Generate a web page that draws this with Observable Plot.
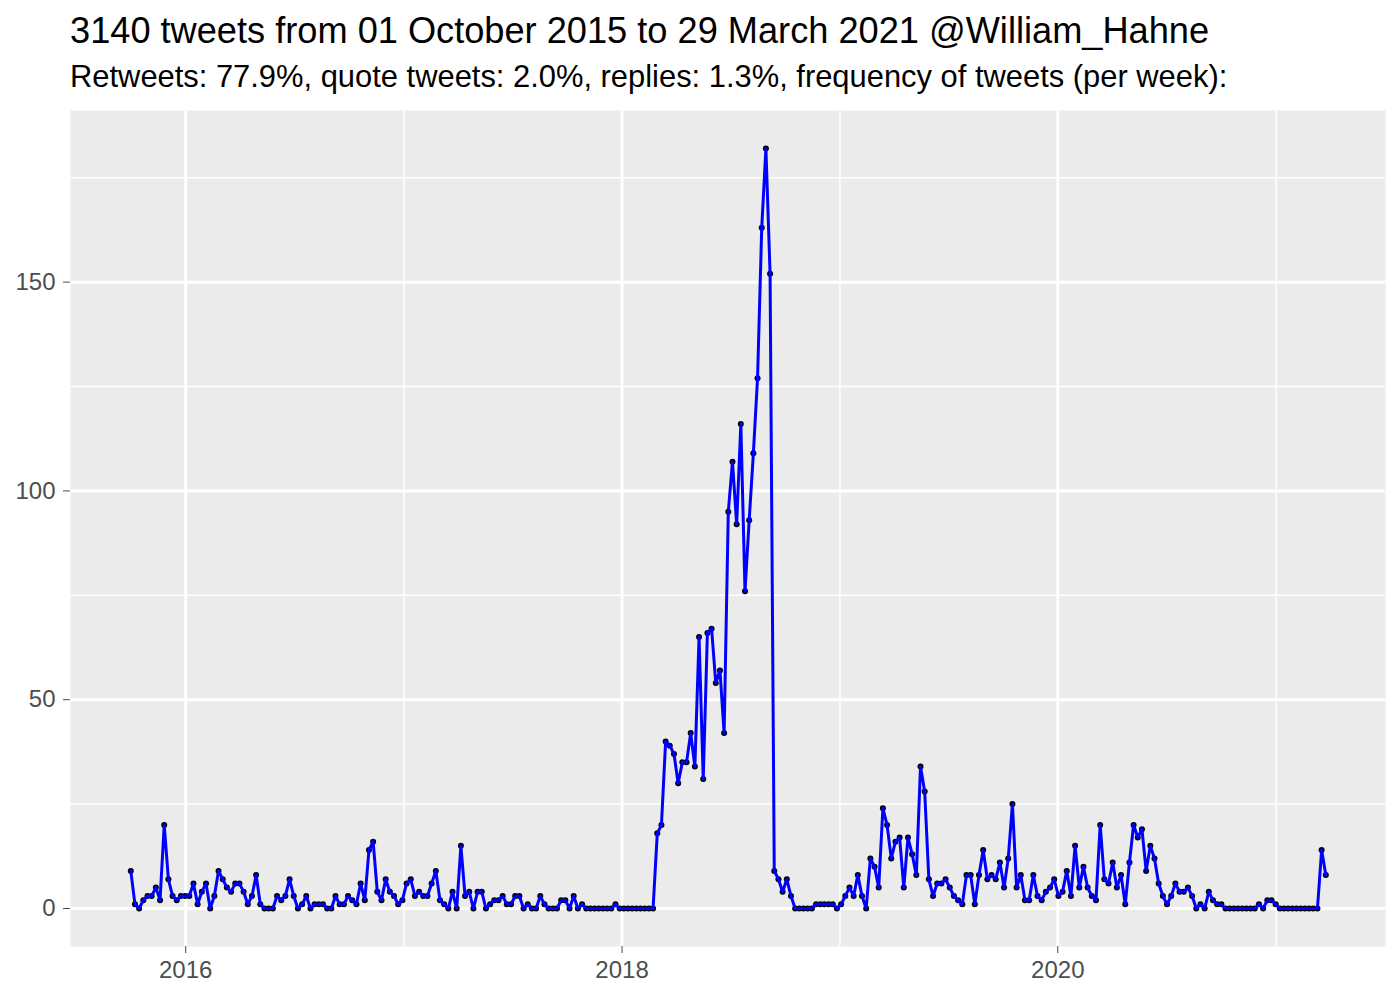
<!DOCTYPE html>
<html>
<head>
<meta charset="utf-8">
<script src="https://cdn.jsdelivr.net/npm/d3@7"></script>
<script src="https://cdn.jsdelivr.net/npm/@observablehq/plot@0.6"></script>
<style>
  body { margin: 0; background: #ffffff; font-family: "Liberation Sans", Arial, sans-serif; }
  #wrap { position: relative; width: 1400px; height: 1000px; background: #ffffff; }
  #title { position: absolute; left: 70px; top: 13px; font-size: 36.2px; line-height: 1; white-space: nowrap; color: #000; }
  #subtitle { position: absolute; left: 70px; top: 62px; font-size: 30.9px; line-height: 1; white-space: nowrap; color: #000; }
  #chart { position: absolute; left: 0; top: 100px; }
</style>
</head>
<body>
<div id="wrap">
  <div id="title">3140 tweets from 01 October 2015 to 29 March 2021 @William_Hahne</div>
  <div id="subtitle">Retweets: 77.9%, quote tweets: 2.0%, replies: 1.3%, frequency of tweets (per week):</div>
  <div id="chart"></div>
</div>
<script>
// Weekly tweet counts, first week starting 2015-10-01
const startDate = "2015-10-01";
const counts = [
  9,1,0,2,3,3,5,2,20,7,3,2,3,3,3,6,1,4,6,0,3,9,7,5,4,6,6,4,1,3,8,1,0,0,
  0,3,2,3,7,3,0,1,3,0,1,1,1,0,0,3,1,1,3,2,1,6,2,14,16,4,2,7,4,3,1,2,6,7,3,
  4,3,3,6,9,2,1,0,4,0,15,3,4,0,4,4,0,1,2,2,3,1,1,3,3,0,1,0,0,3,1,0,0,0,2,
  2,0,3,0,1,0,0,0,0,0,0,0,1,0,0,0,0,0,0,0,0,0,
  18,20,40,39,37,30,35,35,42,34,65,31,66,67,54,57,42,95,107,92,116,76,93,109,127,163,182,152,9,7,4,7,
  3,0,0,0,0,0,1,1,1,1,1,0,1,3,5,3,8,3,0,12,10,5,24,20,12,16,17,5,17,13,8,34,
  28,7,3,6,6,7,5,3,2,1,8,8,1,8,14,7,8,7,11,5,12,25,5,8,2,2,8,3,2,4,5,7,3,4,9,
  3,15,5,10,5,3,2,20,7,6,11,5,8,1,11,20,17,19,9,15,12,6,3,1,3,6,4,4,5,3,0,1,0,4,
  2,1,1,0,0,0,0,0,0,0,0,1,0,2,2,1,0,0,0,0,0,0,0,0,0,0,14,8
];
const yTicks = [0, 50, 100, 150];
const yMinorTicks = [25, 75, 125, 175];
const xTickYears = [2016, 2018, 2020];
const xMinorYears = [2017, 2019, 2021];

const t0 = new Date(startDate);
const data = counts.map((n, i) => ({ time: d3.utcDay.offset(t0, 7 * i), n }));
const tEnd = data[data.length - 1].time;
const spanDays = (tEnd - t0) / 864e5;
const pad = spanDays * 0.05;
const yMax = d3.max(counts);
const yPad = yMax * 0.05;

const majorDates = xTickYears.map(y => new Date(Date.UTC(y, 0, 1)));
const minorDates = xMinorYears.map(y => new Date(Date.UTC(y, 0, 1)));

const chart = Plot.plot({
  width: 1400,
  height: 900,
  marginTop: 10,
  marginBottom: 54,
  marginLeft: 70,
  marginRight: 15,
  style: { fontFamily: "Liberation Sans, Arial, sans-serif", background: "#ffffff", overflow: "visible" },
  x: { type: "utc", domain: [d3.utcDay.offset(t0, -pad), d3.utcDay.offset(tEnd, pad)] },
  y: { domain: [-yPad, yMax + yPad] },
  marks: [
    Plot.frame({ fill: "#EBEBEB", stroke: "none" }),
    Plot.ruleY(yMinorTicks, { stroke: "#ffffff", strokeWidth: 1.5 }),
    Plot.ruleX(minorDates, { stroke: "#ffffff", strokeWidth: 1.5 }),
    Plot.ruleY(yTicks, { stroke: "#ffffff", strokeWidth: 3 }),
    Plot.ruleX(majorDates, { stroke: "#ffffff", strokeWidth: 3 }),
    Plot.dot(data, { x: "time", y: "n", r: 3, fill: "#000000", stroke: "none" }),
    Plot.line(data, { x: "time", y: "n", stroke: "#0000FF", strokeWidth: 3 }),
    Plot.axisY({ ticks: yTicks, tickSize: 7, tickPadding: 8, fontSize: 24, color: "#4D4D4D", label: null }),
    Plot.axisX({ ticks: majorDates, tickFormat: d3.utcFormat("%Y"), tickSize: 7, tickPadding: 7, fontSize: 24, color: "#4D4D4D", label: null })
  ]
});
document.getElementById("chart").appendChild(chart);
</script>
</body>
</html>
